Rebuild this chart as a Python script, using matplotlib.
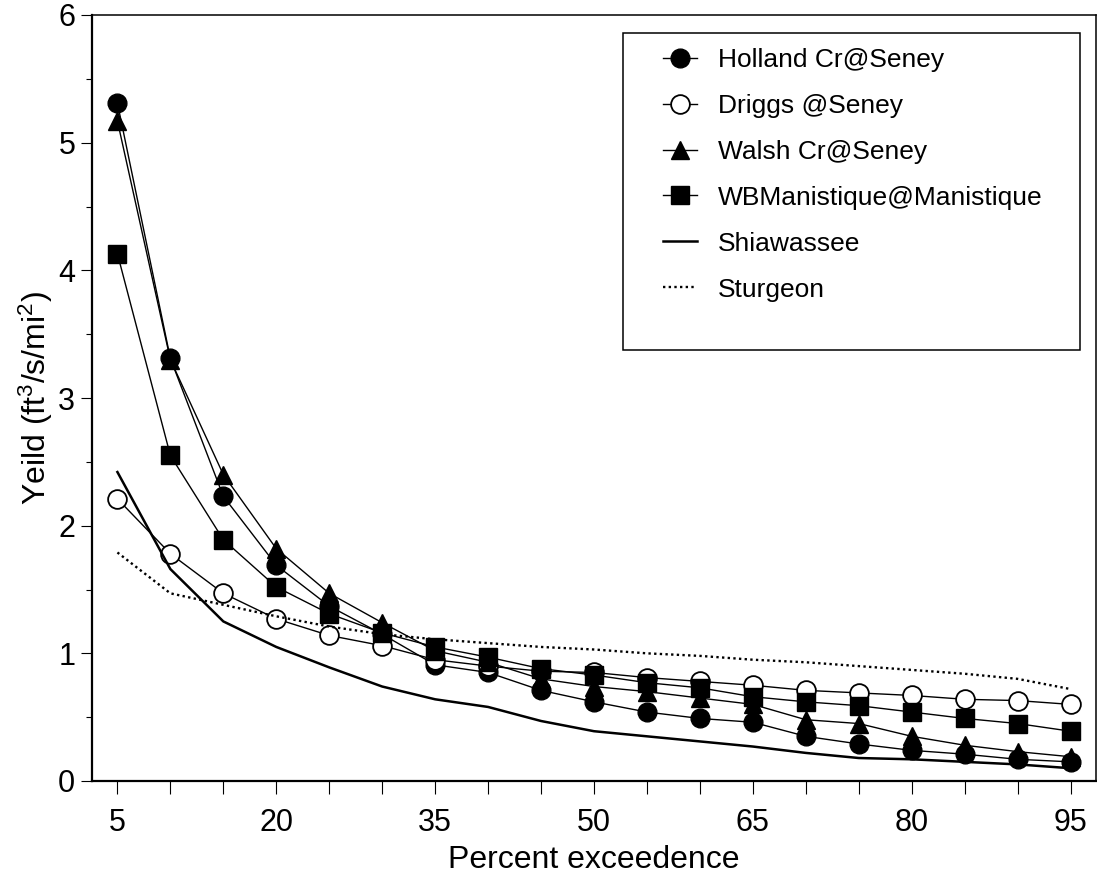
import matplotlib
matplotlib.use('Agg')
import matplotlib.pyplot as plt
from matplotlib.patches import Rectangle

plt.rcParams['font.family'] = ['Liberation Sans', 'DejaVu Sans']
plt.rcParams['mathtext.default'] = 'regular'

pct = [5, 10, 15, 20, 25, 30, 35, 40, 45, 50, 55, 60, 65, 70, 75, 80, 85, 90, 95]
holland = [5.31, 3.31, 2.23, 1.69, 1.37, 1.15, 0.91, 0.85, 0.71, 0.62, 0.54, 0.49, 0.46, 0.35, 0.29, 0.24, 0.21, 0.17, 0.15]
driggs = [2.21, 1.78, 1.47, 1.27, 1.14, 1.06, 0.95, 0.90, 0.86, 0.85, 0.81, 0.78, 0.75, 0.71, 0.69, 0.67, 0.64, 0.63, 0.60]
walsh = [5.17, 3.30, 2.40, 1.82, 1.47, 1.24, 1.02, 0.93, 0.80, 0.74, 0.70, 0.65, 0.60, 0.48, 0.45, 0.35, 0.28, 0.23, 0.19]
wbman = [4.13, 2.55, 1.89, 1.52, 1.31, 1.16, 1.05, 0.97, 0.88, 0.83, 0.77, 0.73, 0.66, 0.62, 0.59, 0.54, 0.49, 0.45, 0.39]
shiawassee = [2.42, 1.66, 1.25, 1.05, 0.89, 0.74, 0.64, 0.58, 0.47, 0.39, 0.35, 0.31, 0.27, 0.22, 0.18, 0.17, 0.15, 0.13, 0.10]
sturgeon = [1.79, 1.47, 1.38, 1.29, 1.21, 1.15, 1.11, 1.08, 1.05, 1.03, 1.00, 0.98, 0.95, 0.93, 0.90, 0.87, 0.84, 0.80, 0.72]

labels = ['Holland Cr@Seney', 'Driggs @Seney', 'Walsh Cr@Seney',
          'WBManistique@Manistique', 'Shiawassee', 'Sturgeon']
xtick_vals = [5, 10, 15, 20, 25, 30, 35, 40, 45, 50, 55, 60, 65, 70, 75, 80, 85, 90, 95]
xtick_labels = ['5', '', '', '20', '', '', '35', '', '', '50', '', '', '65', '', '', '80', '', '', '95']

W, H = 1097, 877
fig = plt.figure(figsize=(W / 100, H / 100), dpi=100)
ax = fig.add_axes([92 / W, (H - 781) / H, (1096 - 92) / W, (781 - 15) / H])

ms = 13.5
lw = 1.0
ax.plot(pct, holland, color='black', lw=lw, marker='o', ms=ms, mfc='black', mec='black', label=labels[0])
ax.plot(pct, driggs, color='black', lw=lw, marker='o', ms=ms, mfc='white', mec='black', mew=1.3, label=labels[1])
ax.plot(pct, walsh, color='black', lw=lw, marker='^', ms=ms, mfc='black', mec='black', label=labels[2])
ax.plot(pct, wbman, color='black', lw=lw, marker='s', ms=ms - 0.5, mfc='black', mec='black', label=labels[3])
ax.plot(pct, shiawassee, color='black', lw=1.8, label=labels[4])
ax.plot(pct, sturgeon, color='black', lw=1.7, linestyle=(0, (1.0, 1.4)), label=labels[5])

ax.set_xlim(2.6, 97.4)
ax.set_ylim(0, 6)
ax.set_xticks(xtick_vals)
ax.set_xticklabels(xtick_labels)
ax.set_yticks([0, 1, 2, 3, 4, 5, 6])
ax.set_yticks([0.5, 1.5, 2.5, 3.5, 4.5, 5.5], minor=True)
ax.tick_params(axis='x', direction='out', length=9.4, width=0.8, labelsize=22, pad=10)
ax.tick_params(axis='y', which='major', direction='out', length=8, width=0.8, labelsize=22, pad=4)
ax.tick_params(axis='y', which='minor', direction='out', length=4.3, width=0.8)

for s in ['left', 'bottom']:
    ax.spines[s].set_linewidth(1.6)
for s in ['top', 'right']:
    ax.spines[s].set_linewidth(1.1)

ax.set_xlabel('Percent exceedence', fontsize=23, labelpad=5)
ax.set_ylabel('Yeild (ft$^{3}$/s/mi$^{2}$)', fontsize=23, labelpad=2)

# legend frame
rect = Rectangle((623 / W, 1 - 350 / H), (1080 - 623) / W, (350 - 33) / H,
                 transform=fig.transFigure, facecolor='white', edgecolor='black',
                 lw=1.1, zorder=5)
fig.add_artist(rect)
leg = ax.legend(loc='upper left', bbox_to_anchor=(663 / W, 1 - 48 / H),
                bbox_transform=fig.transFigure, frameon=False, fontsize=19,
                borderpad=0, borderaxespad=0, handlelength=1.29, handletextpad=0.8,
                labelspacing=0.83, numpoints=1)
leg.set_zorder(6)
fig.add_artist(leg)

fig.savefig('out.png', dpi=100)
